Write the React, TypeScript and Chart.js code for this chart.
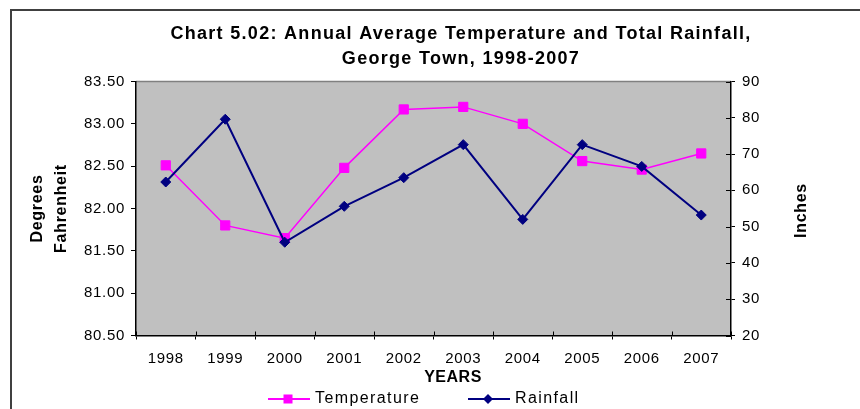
import React, { useEffect, useRef } from 'react';
import { Chart, registerables } from 'chart.js';

Chart.register(...registerables);

// ---- data ----
const YEARS: string[] = ['1998', '1999', '2000', '2001', '2002', '2003', '2004', '2005', '2006', '2007'];
const TEMPERATURE: number[] = [82.51, 81.8, 81.65, 82.48, 83.17, 83.2, 83.0, 82.56, 82.46, 82.65];
const RAINFALL: number[] = [62.3, 79.6, 45.7, 55.6, 63.5, 72.6, 52.0, 72.6, 66.6, 53.2];

const TITLE_LINES: string[] = ['Chart 5.02: Annual Average Temperature and Total Rainfall,', 'George Town, 1998-2007'];
const LEFT_AXIS_TITLE: string[] = ['Degrees', 'Fahrenheit'];
const RIGHT_AXIS_TITLE = 'Inches';
const X_AXIS_TITLE = 'YEARS';
const SERIES_NAMES: string[] = ['Temperature', 'Rainfall'];

const TEMP_MIN = 80.5;
const TEMP_MAX = 83.5;
const TEMP_STEP = 0.5;
const RAIN_MIN = 20;
const RAIN_MAX = 90;
const RAIN_STEP = 10;

// ---- styles ----
const FONT = '"Liberation Sans", Arial, Helvetica, sans-serif';
const TEMP_COLOR = '#FF00FF';
const RAIN_COLOR = '#000080';
const PLOT_BG = '#C0C0C0';

const decorPlugin = {
  id: 'decor',
  beforeDraw(chart: any) {
    const ctx = chart.ctx as CanvasRenderingContext2D;
    const { left, top, right, bottom } = chart.chartArea;
    ctx.save();
    ctx.fillStyle = '#ffffff';
    ctx.fillRect(0, 0, chart.width, chart.height);
    // outer frame
    ctx.strokeStyle = '#404040';
    ctx.lineWidth = 2;
    ctx.strokeRect(11, 10, 1000, 600);
    // plot background
    ctx.fillStyle = PLOT_BG;
    ctx.fillRect(left, top, right - left, bottom - top);
    // top border of plot
    ctx.strokeStyle = '#808080';
    ctx.lineWidth = 1.5;
    ctx.beginPath();
    ctx.moveTo(left, top);
    ctx.lineTo(right, top);
    ctx.stroke();
    // title
    ctx.fillStyle = '#000';
    ctx.font = `bold 18px ${FONT}`;
    ctx.textAlign = 'center';
    ctx.textBaseline = 'middle';
    (ctx as any).letterSpacing = '1.3px';
    TITLE_LINES.forEach((t, i) => ctx.fillText(t, 461, 34 + i * 25));
    ctx.restore();
    (ctx as any).letterSpacing = '0.7px';
  },
  afterDraw(chart: any) {
    const ctx = chart.ctx as CanvasRenderingContext2D;
    const { left, right, top, bottom } = chart.chartArea;
    ctx.save();
    // inner half of crossing tick marks (x axis and right axis)
    ctx.strokeStyle = '#000';
    ctx.lineWidth = 1;
    const n = YEARS.length;
    ctx.beginPath();
    for (let i = 0; i <= n; i++) {
      const x = Math.round(left + ((right - left) * i) / n) + 0.5;
      ctx.moveTo(x, bottom - 4);
      ctx.lineTo(x, bottom);
    }
    const y1 = chart.scales.y1;
    y1.ticks.forEach((t: any) => {
      const y = Math.round(y1.getPixelForValue(t.value)) + 0.5;
      ctx.moveTo(right - 5, y);
      ctx.lineTo(right, y);
    });
    ctx.stroke();

    // x axis title
    (ctx as any).letterSpacing = '0.5px';
    ctx.fillStyle = '#000';
    ctx.font = `bold 16px ${FONT}`;
    ctx.textAlign = 'center';
    ctx.textBaseline = 'middle';
    ctx.fillText(X_AXIS_TITLE, 453, 378);

    // right axis title (reads bottom to top)
    (ctx as any).letterSpacing = '0.7px';
    ctx.save();
    ctx.translate(802, (top + bottom) / 2 + 2);
    ctx.rotate(-Math.PI / 2);
    ctx.fillText(RIGHT_AXIS_TITLE, 0, 0);
    ctx.restore();

    // legend
    const ly = 399;
    ctx.font = `16px ${FONT}`;
    ctx.textAlign = 'left';
    (ctx as any).letterSpacing = '1.4px';
    const items = [
      { name: SERIES_NAMES[0], color: TEMP_COLOR, x0: 268, shape: 'rect' },
      { name: SERIES_NAMES[1], color: RAIN_COLOR, x0: 468, shape: 'diamond' },
    ];
    items.forEach((it) => {
      ctx.strokeStyle = it.color;
      ctx.lineWidth = 2;
      ctx.beginPath();
      ctx.moveTo(it.x0, ly);
      ctx.lineTo(it.x0 + 42, ly);
      ctx.stroke();
      ctx.fillStyle = it.color;
      const cx = it.x0 + 20;
      if (it.shape === 'rect') {
        ctx.fillRect(cx - 4.5, ly - 4.5, 9, 9);
      } else {
        ctx.beginPath();
        ctx.moveTo(cx, ly - 5);
        ctx.lineTo(cx + 5, ly);
        ctx.lineTo(cx, ly + 5);
        ctx.lineTo(cx - 5, ly);
        ctx.closePath();
        ctx.fill();
      }
      ctx.fillStyle = '#000';
      ctx.fillText(it.name, it.x0 + 47, ly);
    });
    ctx.restore();
  },
};

export default function App() {
  const canvasRef = useRef<HTMLCanvasElement | null>(null);

  useEffect(() => {
    const canvas = canvasRef.current;
    if (!canvas) return;
    const chart = new Chart(canvas, {
      type: 'line',
      data: {
        labels: YEARS,
        datasets: [
          {
            label: SERIES_NAMES[0],
            data: TEMPERATURE,
            yAxisID: 'y',
            borderColor: TEMP_COLOR,
            backgroundColor: TEMP_COLOR,
            borderWidth: 1.5,
            pointStyle: 'rect',
            pointRadius: 6.5,
            pointBackgroundColor: TEMP_COLOR,
            pointBorderColor: TEMP_COLOR,
            pointBorderWidth: 1,
            tension: 0,
            order: 2,
          },
          {
            label: SERIES_NAMES[1],
            data: RAINFALL,
            yAxisID: 'y1',
            borderColor: RAIN_COLOR,
            backgroundColor: RAIN_COLOR,
            borderWidth: 2,
            pointStyle: 'rectRot',
            pointRadius: 5,
            pointBackgroundColor: RAIN_COLOR,
            pointBorderColor: RAIN_COLOR,
            pointBorderWidth: 1,
            tension: 0,
            order: 1,
          },
        ],
      },
      options: {
        responsive: false,
        maintainAspectRatio: false,
        animation: false,
        layout: { padding: { left: 12, top: 81.5, right: 40, bottom: 18.5 } },
        plugins: {
          legend: { display: false },
          title: { display: false },
          tooltip: { enabled: false },
        },
        scales: {
          x: {
            type: 'category',
            offset: true,
            grid: {
              display: true,
              offset: true,
              drawOnChartArea: false,
              drawTicks: true,
              tickLength: 4,
              color: '#000',
              lineWidth: 1,
            },
            border: { display: true, color: '#000', width: 1.5 },
            ticks: {
              color: '#000',
              font: { family: FONT, size: 15 },
              padding: 10,
              maxRotation: 0,
              autoSkip: false,
            },
            afterFit: (s: any) => {
              s.height = 55;
            },
          },
          y: {
            type: 'linear',
            position: 'left',
            min: TEMP_MIN,
            max: TEMP_MAX,
            ticks: {
              stepSize: TEMP_STEP,
              color: '#000',
              font: { family: FONT, size: 15 },
              padding: 6,
              callback: (v: any) => Number(v).toFixed(2),
            },
            grid: { drawOnChartArea: false, tickLength: 5, color: '#000', lineWidth: 1 },
            border: { display: true, color: '#000', width: 1.5 },
            title: {
              display: true,
              text: LEFT_AXIS_TITLE,
              color: '#000',
              font: { family: FONT, size: 16, weight: 'bold', lineHeight: '24px' },
              padding: { top: 13.5, bottom: 0 },
            },
            afterFit: (s: any) => {
              s.width = 124;
            },
          },
          y1: {
            type: 'linear',
            position: 'right',
            min: RAIN_MIN,
            max: RAIN_MAX,
            ticks: {
              stepSize: RAIN_STEP,
              color: '#000',
              font: { family: FONT, size: 15 },
              padding: 7,
            },
            grid: { drawOnChartArea: false, tickLength: 4, color: '#000', lineWidth: 1 },
            border: { display: true, color: '#000', width: 1.5 },
            title: { display: false },
            afterFit: (s: any) => {
              s.width = 89;
            },
          },
        },
      },
      plugins: [decorPlugin],
    } as any);
    return () => chart.destroy();
  }, []);

  return (
    <div style={{ position: 'fixed', left: 0, top: 0, width: 860, height: 409, background: '#fff' }}>
      <canvas ref={canvasRef} width={860} height={409} style={{ display: 'block', width: 860, height: 409 }} />
    </div>
  );
}
